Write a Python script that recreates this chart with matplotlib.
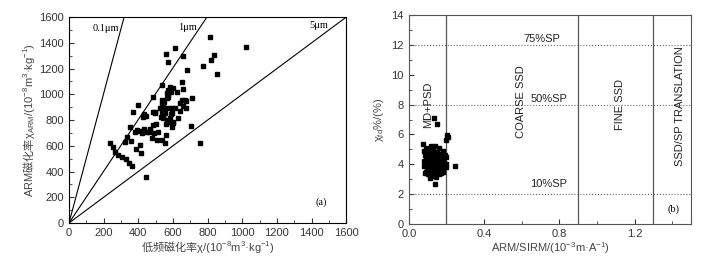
import matplotlib.pyplot as plt
from matplotlib.ticker import MultipleLocator

plt.rcParams['font.family'] = ['Liberation Sans', 'Noto Sans CJK SC', 'DejaVu Sans']
plt.rcParams['font.size'] = 8
# Chinese words go through mathtext \mathrm, which is pointed at the CJK font
plt.rcParams['mathtext.fontset'] = 'custom'
plt.rcParams['mathtext.rm'] = 'Noto Sans CJK SC'
plt.rcParams['mathtext.it'] = 'Liberation Sans:italic'
plt.rcParams['mathtext.bf'] = 'Liberation Sans:bold'
plt.rcParams['mathtext.default'] = 'regular'

# (a) chi vs chi_ARM
chi = [814, 1022, 612, 560, 660, 574, 834, 818, 776, 680, 857,
       537, 655, 583, 599, 660, 487, 564, 574, 622, 651, 676, 709, 589, 570, 574,
       535, 550, 564, 670, 641, 660, 674, 641, 535, 545, 526, 574, 593, 612,
       497, 539, 555, 532, 545, 589, 583, 631, 603, 593, 570, 558, 705, 501,
       512, 558, 539, 555, 757,
       400, 372, 435, 429, 487, 497, 549, 545, 564, 593, 603,
       352, 381, 410, 433, 449, 487, 493, 478, 510, 333, 323, 356, 387, 410,
       414, 237, 256, 266, 285, 304, 329, 347, 366, 445,
       465, 420, 395, 470, 443, 459]
chi_arm = [1442, 1369, 1362, 1313, 1297, 1248, 1308, 1269, 1217, 1188, 1160,
           1072, 1098, 1059, 1051, 1041, 981, 1007, 981, 1015, 955, 948, 968, 1015, 994, 1033,
           955, 942, 968, 955, 930, 911, 891, 870, 922, 903, 891, 891, 896, 891,
           865, 865, 852, 826, 818, 844, 813, 813, 774, 748, 787, 769, 756, 767,
           704, 684, 645, 619, 619,
           916, 865, 847, 826, 865, 852, 878, 826, 800, 852, 787,
           743, 709, 717, 728, 709, 761, 697, 658, 645, 670, 632, 639, 572, 606,
           541, 619, 593, 554, 528, 510, 495, 468, 443, 360,
           730, 700, 720, 715, 834, 705]
slopes = [5.03, 2.01, 1.0]
size_labels = ['0.1\u03bcm', '1\u03bcm', '5\u03bcm']
size_pos = [(211, 1515), (685, 1520), (1444, 1533)]

# (b) ARM/SIRM vs chi_fd%
ratio = [0.075, 0.132, 0.150, 0.204, 0.209, 0.197, 0.245, 0.141,
         0.08, 0.09, 0.10, 0.12, 0.14, 0.16, 0.18, 0.19,
         0.085, 0.10, 0.11, 0.13, 0.15, 0.17,
         0.09, 0.105, 0.12, 0.135, 0.15, 0.165, 0.18, 0.195,
         0.08, 0.095, 0.11, 0.125, 0.14, 0.155, 0.17, 0.185,
         0.09, 0.10, 0.115, 0.13, 0.145, 0.16, 0.175, 0.19, 0.20,
         0.08, 0.095, 0.11, 0.125, 0.14, 0.155, 0.17,
         0.09, 0.105, 0.12, 0.135, 0.15, 0.165, 0.18,
         0.10, 0.115, 0.14, 0.16, 0.17,
         0.11, 0.125, 0.145,
         0.085, 0.20, 0.13, 0.12, 0.16]
chi_fd = [5.36, 7.08, 6.70, 5.96, 5.81, 5.63, 3.91, 2.66,
          4.9, 5.0, 5.1, 5.2, 5.25, 5.1, 4.9, 4.6,
          4.6, 4.7, 4.8, 4.9, 4.8, 4.7,
          4.4, 4.5, 4.55, 4.6, 4.5, 4.45, 4.4, 4.5,
          4.2, 4.25, 4.3, 4.3, 4.35, 4.25, 4.2, 4.1,
          4.0, 4.05, 4.1, 4.0, 4.05, 4.0, 3.95, 3.9, 4.05,
          3.9, 3.8, 3.85, 3.8, 3.75, 3.8, 3.7,
          3.5, 3.6, 3.55, 3.5, 3.6, 3.45, 3.5,
          3.35, 3.3, 3.3, 3.35, 3.4,
          3.1, 3.2, 3.15,
          3.4, 3.85, 4.75, 4.45, 4.65]
bounds = [0.2, 0.9, 1.3]
sp_levels = [2, 8, 12]
sp_labels = ['10%SP', '50%SP', '75%SP']
sp_pos = [(0.743, 2.66), (0.743, 8.35), (0.709, 12.37)]
zones = ['MD+PSD', 'COARSE SSD', 'FINE SSD', 'SSD/SP TRANSLATION']
zone_pos = [(0.10, 8.0), (0.594, 8.2), (1.12, 8.0), (1.44, 7.9)]

fig = plt.figure(figsize=(7.11, 2.63), dpi=100)
ax1 = fig.add_axes([0.097, 0.152, 0.390, 0.783])
ax2 = fig.add_axes([0.575, 0.148, 0.397, 0.795])

#%% panel (a)
for k in slopes:
    ax1.plot([0, 1600], [0, 1600 * k], color='k', lw=0.8)
for lab, (x, y) in zip(size_labels, size_pos):
    ax1.text(x, y, lab, family='Liberation Serif', fontsize=7.5, ha='center', va='center')
ax1.plot(chi, chi_arm, 's', color='k', ms=3.2)
ax1.text(1456, 161, '(a)', family='Liberation Serif', fontsize=7.5, ha='center', va='center')
ax1.set_xlim(0, 1600)
ax1.set_ylim(0, 1600)
ax1.xaxis.set_major_locator(MultipleLocator(200))
ax1.xaxis.set_minor_locator(MultipleLocator(100))
ax1.yaxis.set_major_locator(MultipleLocator(200))
ax1.yaxis.set_minor_locator(MultipleLocator(100))
ax1.set_xlabel(r'$\mathrm{低频磁化率}$χ/(10$^{-8}$m$^3$·kg$^{-1}$)', color='#444444', labelpad=1)
ax1.set_ylabel(r'ARM$\mathrm{磁化率}$χ$_{ARM}$/(10$^{-8}$m$^3$·kg$^{-1}$)', color='#444444',
               labelpad=2)

#%% panel (b)
for b in bounds:
    ax2.axvline(b, color='#555555', lw=0.9)
for lev in sp_levels:
    ax2.axhline(lev, color='#666666', lw=0.8, ls=':')
for lab, (x, y) in zip(sp_labels, sp_pos):
    ax2.text(x, y, lab, fontsize=8, ha='center', va='center', color='#222222')
for lab, (x, y) in zip(zones, zone_pos):
    ax2.text(x, y, lab, fontsize=8, ha='center', va='center', rotation=90, color='#222222')
ax2.plot(ratio, chi_fd, 's', color='k', ms=3.0)
ax2.text(1.405, 1.0, '(b)', family='Liberation Serif', fontsize=7.5, ha='center', va='center')
ax2.set_xlim(0, 1.5)
ax2.set_ylim(0, 14)
ax2.xaxis.set_major_locator(MultipleLocator(0.4))
ax2.xaxis.set_minor_locator(MultipleLocator(0.2))
ax2.yaxis.set_major_locator(MultipleLocator(2))
ax2.yaxis.set_minor_locator(MultipleLocator(1))
ax2.set_xticks([0.0, 0.4, 0.8, 1.2])
ax2.set_xticklabels(['0.0', '0.4', '0.8', '1.2'])
ax2.set_xlabel('ARM/SIRM/(10$^{-3}$m·A$^{-1}$)', color='#444444', labelpad=1)
ax2.set_ylabel('χ$_{fd}$%/(%)', color='#444444', labelpad=4)
for sp in ax2.spines.values():
    sp.set_color('#555555')

for ax in (ax1, ax2):
    ax.tick_params(which='both', direction='in', top=False, right=False, colors='#333333')
    ax.tick_params(which='major', length=3.5, width=0.8)
    ax.tick_params(which='minor', length=2, width=0.6)

fig.savefig('out.png', dpi=100)
